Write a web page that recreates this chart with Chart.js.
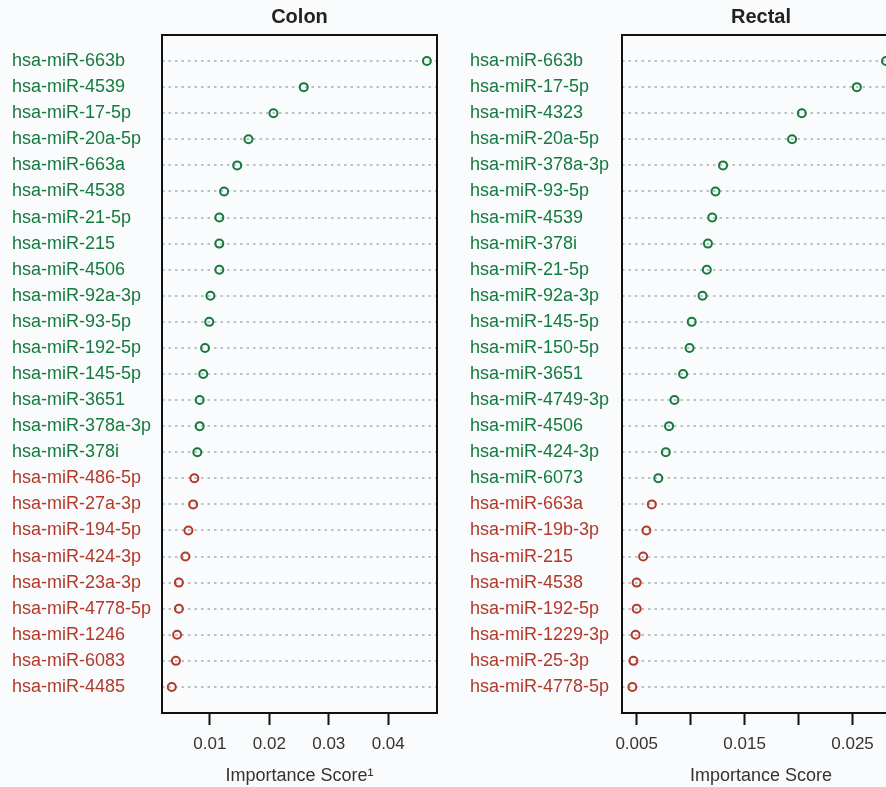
<!DOCTYPE html>
<html>
<head>
<meta charset="utf-8">
<script src="https://cdn.jsdelivr.net/npm/chart.js@4.4.0/dist/chart.umd.min.js"></script>
<style>
  html, body { margin: 0; padding: 0; background: #fafbfc; overflow: hidden; }
  #wrap { position: relative; width: 886px; height: 787px; overflow: hidden; }
  canvas { position: absolute; top: 0; }
</style>
</head>
<body>
<div id="wrap">
  <canvas id="colon" width="443" height="787" style="left:0px"></canvas>
  <canvas id="rectal" width="452" height="787" style="left:458px"></canvas>
</div>
<script>
// Colon panel
var colonNames = ['hsa-miR-663b','hsa-miR-4539','hsa-miR-17-5p','hsa-miR-20a-5p','hsa-miR-663a',
  'hsa-miR-4538','hsa-miR-21-5p','hsa-miR-215','hsa-miR-4506','hsa-miR-92a-3p','hsa-miR-93-5p',
  'hsa-miR-192-5p','hsa-miR-145-5p','hsa-miR-3651','hsa-miR-378a-3p','hsa-miR-378i',
  'hsa-miR-486-5p','hsa-miR-27a-3p','hsa-miR-194-5p','hsa-miR-424-3p','hsa-miR-23a-3p',
  'hsa-miR-4778-5p','hsa-miR-1246','hsa-miR-6083','hsa-miR-4485'];
var colonScores = [0.0465,0.0258,0.0207,0.0165,0.0146,0.0124,0.0116,0.0116,0.0116,0.0101,0.0099,
  0.0092,0.0089,0.0083,0.0083,0.0079,0.0074,0.0072,0.0064,0.0059,0.0048,0.0048,0.0045,0.0043,0.0036];
var colonUp = 16; // first 16 are green, rest red
var colonTicks = [0.01,0.02,0.03,0.04];
var colonTickLabels = ['0.01','0.02','0.03','0.04'];

// Rectal panel
var rectalNames = ['hsa-miR-663b','hsa-miR-17-5p','hsa-miR-4323','hsa-miR-20a-5p','hsa-miR-378a-3p',
  'hsa-miR-93-5p','hsa-miR-4539','hsa-miR-378i','hsa-miR-21-5p','hsa-miR-92a-3p','hsa-miR-145-5p',
  'hsa-miR-150-5p','hsa-miR-3651','hsa-miR-4749-3p','hsa-miR-4506','hsa-miR-424-3p','hsa-miR-6073',
  'hsa-miR-663a','hsa-miR-19b-3p','hsa-miR-215','hsa-miR-4538','hsa-miR-192-5p','hsa-miR-1229-3p',
  'hsa-miR-25-3p','hsa-miR-4778-5p'];
var rectalScores = [0.0281,0.0254,0.0203,0.0194,0.0130,0.0123,0.0120,0.0116,0.0115,0.0111,0.0101,
  0.0099,0.0093,0.0085,0.0080,0.0077,0.0070,0.0064,0.0059,0.0056,0.0050,0.0050,0.0049,0.0047,0.0046];
var rectalUp = 17;
var rectalTicks = [0.005,0.010,0.015,0.020,0.025];
var rectalTickLabels = ['0.005','','0.015','','0.025'];

var GREEN = '#157a3d';
var RED = '#b3392b';
var FONT = 'Liberation Sans, Arial, sans-serif';

// box round the plot area + panel title
var boxPlugin = {
  id: 'panelBox',
  afterDraw: function(chart, args, opts) {
    var a = chart.chartArea, ctx = chart.ctx;
    ctx.save();
    ctx.strokeStyle = '#111';
    ctx.lineWidth = 2;
    ctx.strokeRect(a.left, a.top, a.right - a.left, a.bottom - a.top);
    ctx.fillStyle = '#222';
    ctx.font = 'bold 20px ' + FONT;
    ctx.textAlign = 'center';
    ctx.textBaseline = 'middle';
    ctx.fillText(opts.text, (a.left + a.right) / 2, 17);
    ctx.restore();
  }
};

function makePanel(id, title, names, scores, nUp, xMin, xMax, ticks, tickLabels, axisTitle, yWidth, padRight) {
  var pts = scores.map(function(v, i) { return {x: v, y: i + 1}; });
  var cols = scores.map(function(v, i) { return i < nUp ? GREEN : RED; });
  return new Chart(document.getElementById(id), {
    type: 'scatter',
    data: {
      datasets: [{
        data: pts,
        pointRadius: 4,
        pointBorderWidth: 2,
        pointBorderColor: cols,
        pointBackgroundColor: 'rgba(0,0,0,0)',
        showLine: false
      }]
    },
    options: {
      responsive: false,
      animation: false,
      layout: { padding: { top: 35, left: 12, right: padRight, bottom: 0 } },
      plugins: {
        legend: { display: false },
        tooltip: { enabled: false },
        panelBox: { text: title }
      },
      scales: {
        x: {
          type: 'linear',
          min: xMin,
          max: xMax,
          afterBuildTicks: function(axis) {
            axis.ticks = ticks.map(function(v) { return {value: v}; });
          },
          ticks: {
            autoSkip: false,
            maxRotation: 0,
            padding: 9,
            color: '#333',
            font: { family: FONT, size: 17 },
            callback: function(v, i) { return tickLabels[i]; }
          },
          grid: { drawOnChartArea: false, drawTicks: true, tickLength: 12, tickWidth: 2, tickColor: '#111' },
          border: { display: false },
          title: {
            display: true,
            text: axisTitle,
            color: '#333',
            font: { family: FONT, size: 18 },
            padding: { top: 2, bottom: 0 }
          }
        },
        y: {
          type: 'linear',
          reverse: true,
          min: 0,
          max: names.length + 1,
          afterBuildTicks: function(axis) {
            var t = [];
            for (var i = 0; i <= names.length + 1; i++) t.push({value: i});
            axis.ticks = t;
          },
          afterFit: function(axis) { axis.width = yWidth; },
          ticks: {
            autoSkip: false,
            crossAlign: 'far',
            padding: 0,
            font: { family: FONT, size: 18 },
            color: function(ctx) { return ctx.tick && ctx.tick.value <= nUp ? GREEN : RED; },
            callback: function(v) { return names[v - 1] || ''; }
          },
          grid: {
            drawTicks: false,
            lineWidth: 2,
            color: function(ctx) {
              var v = ctx.tick ? ctx.tick.value : 0;
              return (v === 0 || v === names.length + 1) ? 'rgba(0,0,0,0)' : '#bcc1c6';
            }
          },
          border: { display: false, dash: [2.5, 4] }
        }
      }
    },
    plugins: [boxPlugin]
  });
}

makePanel('colon', 'Colon', colonNames, colonScores, colonUp, 0.00196, 0.0482,
  colonTicks, colonTickLabels, 'Importance Score\u00b9', 150, 5);
makePanel('rectal', 'Rectal', rectalNames, rectalScores, rectalUp, 0.00364, 0.0294,
  rectalTicks, rectalTickLabels, 'Importance Score', 152, 10);
</script>
</body>
</html>
